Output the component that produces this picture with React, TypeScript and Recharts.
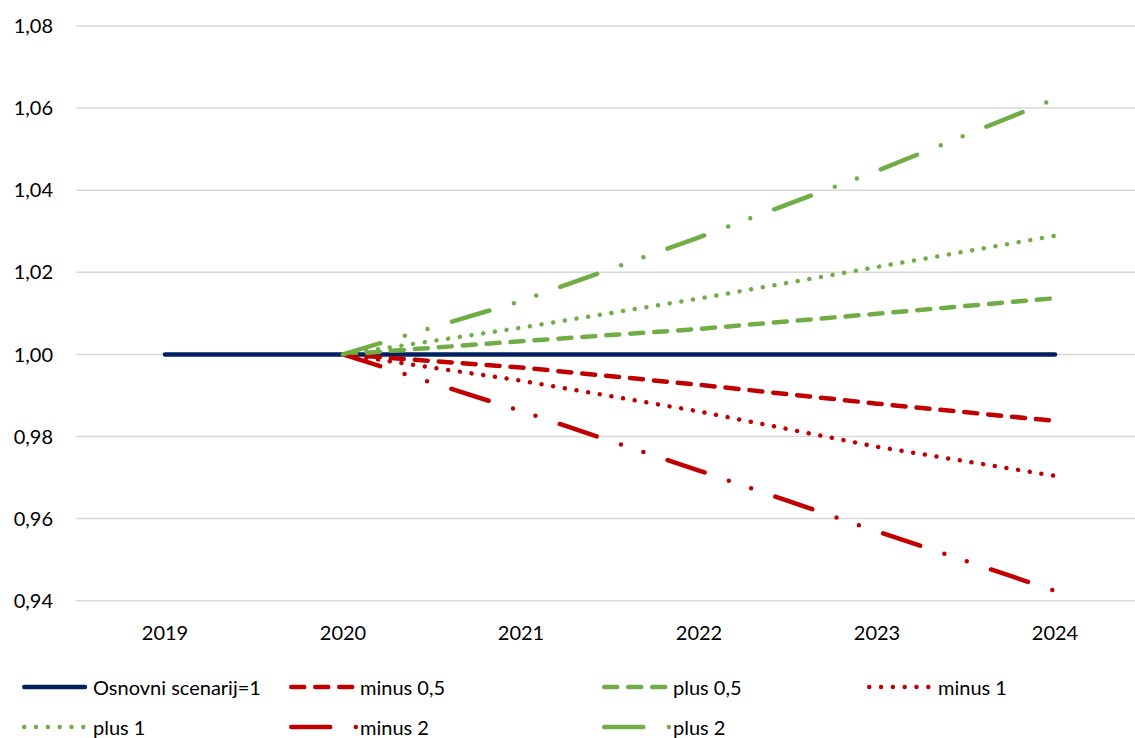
import { CartesianGrid, Line, LineChart, XAxis, YAxis } from 'recharts';

const years = ['2019', '2020', '2021', '2022', '2023', '2024'];
const osnovni = [1, 1, 1, 1, 1, 1];
const minus05 = [null, 1, 0.9968, 0.9926, 0.988, 0.9838];
const plus05 = [null, 1, 1.0032, 1.0062, 1.0099, 1.0137];
const minus1 = [null, 1, 0.9936, 0.9861, 0.9775, 0.9704];
const plus1 = [null, 1, 1.0065, 1.0136, 1.0213, 1.0289];
const minus2 = [null, 1, 0.9862, 0.9717, 0.9569, 0.9424];
const plus2 = [null, 1, 1.013, 1.0285, 1.0447, 1.0622];
const yTicks = [0.94, 0.96, 0.98, 1.0, 1.02, 1.04, 1.06, 1.08];

const NAVY = '#002060';
const RED = '#C00000';
const GREEN = '#70AD47';
const DASH = '13 11';
const DOT = '0.01 11.8';
const LONGDASHDOTDOT = '39 25.6 0 23.6 0 25.6';

const series = [
  { key: 'osnovni', name: 'Osnovni scenarij=1', values: osnovni, color: NAVY, dash: undefined },
  { key: 'minus05', name: 'minus 0,5', values: minus05, color: RED, dash: DASH },
  { key: 'plus05', name: 'plus 0,5', values: plus05, color: GREEN, dash: DASH },
  { key: 'minus1', name: 'minus 1', values: minus1, color: RED, dash: DOT },
  { key: 'plus1', name: 'plus 1', values: plus1, color: GREEN, dash: DOT },
  { key: 'minus2', name: 'minus 2', values: minus2, color: RED, dash: LONGDASHDOTDOT },
  { key: 'plus2', name: 'plus 2', values: plus2, color: GREEN, dash: LONGDASHDOTDOT },
];

const data = years.map((year, i) => {
  const row: Record<string, string | number | null> = { year };
  series.forEach((s) => {
    row[s.key] = s.values[i];
  });
  return row;
});

// legend slots (x of icon, y center of row)
const legendCols = [22, 289, 602, 867];
const legendRows = [687, 727];

const FONT = 'Lato, "Open Sans", sans-serif';
const fmt = (v: number) => v.toFixed(2).replace('.', ',');

function LegendItem({ s, x, y }: { s: (typeof series)[number]; x: number; y: number }) {
  const isBase = !s.dash;
  return (
    <div
      style={{
        position: 'absolute',
        left: x,
        top: y - 13,
        height: 26,
        display: 'flex',
        alignItems: 'center',
        whiteSpace: 'nowrap',
      }}
    >
      <svg width={71} height={10} style={{ display: 'block' }}>
        <line
          x1={2.25}
          y1={5}
          x2={isBase ? 63 : 70}
          y2={5}
          stroke={s.color}
          strokeWidth={4.5}
          strokeLinecap="round"
          strokeDasharray={s.dash}
        />
      </svg>
      <span style={{ fontFamily: FONT, fontSize: 20, color: '#000' }}>{s.name}</span>
    </div>
  );
}

export default function App() {
  return (
    <div style={{ position: 'absolute', left: 0, top: 0, width: 1135, height: 738, overflow: 'hidden', background: '#fff' }}>
      <LineChart width={1150} height={665} data={data} margin={{ top: 26, right: 6, bottom: 34.3, left: 0 }}>
        <CartesianGrid vertical={false} stroke="#d9d9d9" strokeWidth={1.5} />
        <XAxis
          dataKey="year"
          axisLine={false}
          tickLine={false}
          tickSize={0}
          tickMargin={25}
          height={30}
          padding={{ left: 89, right: 89 }}
          tick={{ fontSize: 20, fontFamily: FONT, fill: '#000' }}
        />
        <YAxis
          type="number"
          domain={[0.94, 1.08]}
          ticks={yTicks}
          width={76}
          axisLine={false}
          tickLine={false}
          tickSize={0}
          tickMargin={23}
          tickFormatter={fmt}
          tick={{ fontSize: 20, fontFamily: FONT, fill: '#000' }}
        />
        {series.map((s) => (
          <Line
            key={s.key}
            dataKey={s.key}
            name={s.name}
            type="linear"
            stroke={s.color}
            strokeWidth={4.5}
            strokeLinecap="round"
            strokeDasharray={s.dash}
            dot={false}
            activeDot={false}
            isAnimationActive={false}
          />
        ))}
      </LineChart>
      {series.map((s, i) => (
        <LegendItem key={s.key} s={s} x={legendCols[i % 4]} y={legendRows[Math.floor(i / 4)]} />
      ))}
    </div>
  );
}
